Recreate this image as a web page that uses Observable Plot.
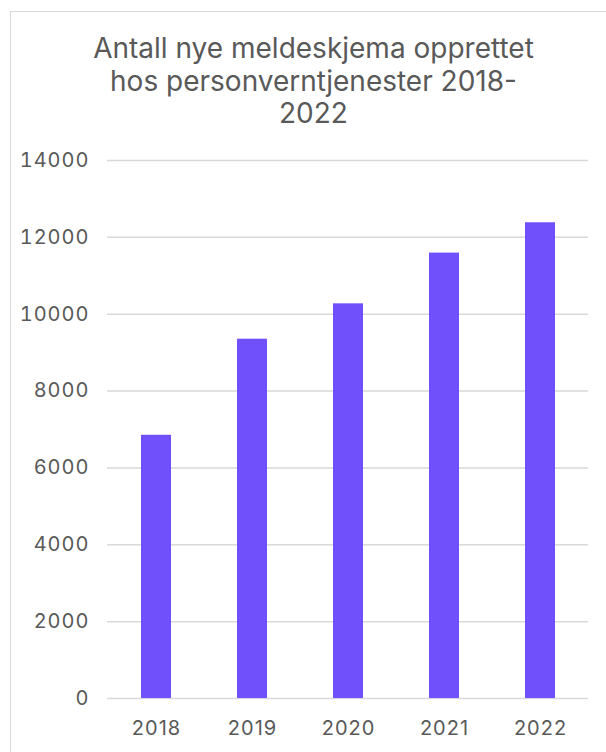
<!DOCTYPE html>
<html>
<head>
<meta charset="utf-8">
<script src="https://cdn.jsdelivr.net/npm/d3@7"></script>
<script src="https://cdn.jsdelivr.net/npm/@observablehq/plot@0.6"></script>
<style>
  html, body { margin: 0; padding: 0; background: #fff; overflow: hidden; }
  body { width: 606px; height: 752px; position: relative; font-family: Inter, "DejaVu Sans", sans-serif; }
  .frame { position: absolute; left: 10px; top: 11px; width: 620px; height: 760px; border: 1.5px solid #d9d9d9; box-sizing: border-box; }
  .title { position: absolute; left: 0; top: 0; width: 627px; height: 140px; text-align: center; color: #595959; font-size: 28px; line-height: 32.5px; padding-top: 32px; box-sizing: border-box; }
  #chart { position: absolute; left: 0; top: 140px; }
  #chart svg { overflow: visible; }
  #chart svg text { font-size: 20px; letter-spacing: 1px; }
</style>
</head>
<body>
<div class="frame"></div>
<div class="title">Antall nye meldeskjema opprettet<br>hos personverntjenester 2018-<br>2022</div>
<div id="chart"></div>
<script>
const years = ["2018", "2019", "2020", "2021", "2022"];
const counts = [6850, 9350, 10270, 11590, 12380];
const yTicks = [0, 2000, 4000, 6000, 8000, 10000, 12000, 14000];

const data = years.map((year, i) => ({year, count: counts[i]}));

const chart = Plot.plot({
  width: 606,
  height: 612,
  marginTop: 20,
  marginBottom: 54,
  marginLeft: 107,
  marginRight: 18,
  style: {fontFamily: "Inter, 'DejaVu Sans', sans-serif", fontSize: "20px", color: "#595959", background: "transparent"},
  x: {domain: years, paddingInner: 0.69, paddingOuter: 0.345, label: null},
  y: {domain: [0, 14000], label: null},
  marks: [
    Plot.ruleY(yTicks, {stroke: "#d9d9d9", strokeWidth: 1.5}),
    Plot.barY(data, {x: "year", y: "count", fill: "#7050fb"}),
    Plot.axisX({tickSize: 0, tickPadding: 22, fill: "#595959", fontSize: 20, label: null}),
    Plot.axisY({ticks: yTicks, tickSize: 0, tickPadding: 18, fill: "#595959", fontSize: 20, label: null, tickFormat: d => String(d)})
  ]
});
document.getElementById("chart").appendChild(chart);
</script>
</body>
</html>
